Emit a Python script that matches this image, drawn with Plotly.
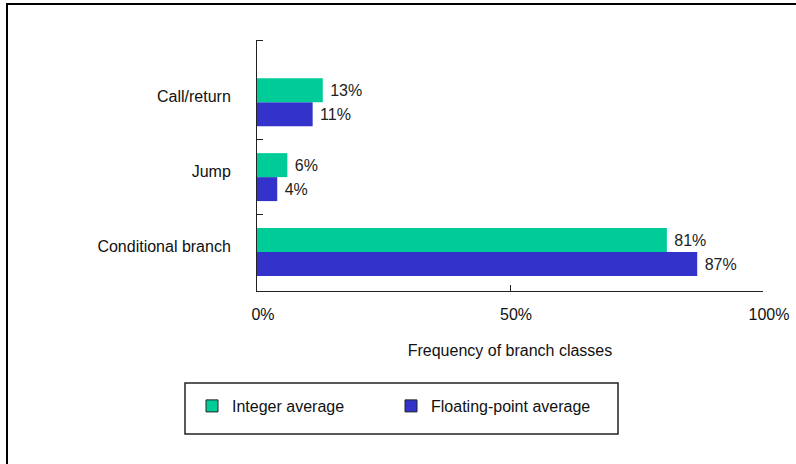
import plotly.graph_objects as go

categories = ["Conditional branch", "Jump", "Call/return"]
integer_avg = [81, 6, 13]
fp_avg = [87, 4, 11]
x_ticks = [0, 50, 100]
x_tick_labels = ["0%", "50%", "100%"]
series_names = ["Integer average", "Floating-point average"]
colors = ["#00CC99", "#3333CC"]

ypos = list(range(len(categories)))
FONT = "Arial, Liberation Sans, sans-serif"
FS = 16

fig = go.Figure()
# data bars (first trace drawn lowest in each group)
fig.add_trace(go.Bar(y=ypos, x=fp_avg, orientation="h", marker=dict(color=colors[1], line=dict(width=0)),
                     text=[f" {v}%" for v in fp_avg], textposition="outside", cliponaxis=False,
                     constraintext="none",
                     textfont=dict(size=FS, color="#222"), showlegend=False, name=series_names[1]))
fig.add_trace(go.Bar(y=ypos, x=integer_avg, orientation="h", marker=dict(color=colors[0], line=dict(width=0)),
                     text=[f" {v}%" for v in integer_avg], textposition="outside", cliponaxis=False,
                     constraintext="none",
                     textfont=dict(size=FS, color="#222"), showlegend=False, name=series_names[0]))
# legend entries (on hidden overlay axes so they do not take space in the bar groups)
for nm, c in zip(series_names, colors):
    fig.add_trace(go.Bar(y=[None], x=[None], orientation="h", name=nm, xaxis="x2", yaxis="y2",
                         marker=dict(color=c, line=dict(color="#222", width=1))))

W, H = 796, 464
L, R, T, B = 257, 33, 40, 464 - 291
pw, ph = W - L - R, H - T - B

def px(x):
    return (x - L) / pw

def py(y):
    return (H - B - y) / ph

shapes = [
    dict(type="line", xref="paper", yref="paper", x0=px(6), x1=px(800), y0=py(4), y1=py(4),
         line=dict(color="black", width=2)),
    dict(type="line", xref="paper", yref="paper", x0=px(7), x1=px(7), y0=py(3), y1=py(470),
         line=dict(color="black", width=2)),
    dict(type="rect", xref="paper", yref="paper", x0=px(185), x1=px(618), y0=py(383), y1=py(434),
         line=dict(color="#222", width=1.5)),
]

fig.update_layout(
    width=W, height=H,
    margin=dict(l=L, r=R, t=T, b=B, autoexpand=False),
    paper_bgcolor="white", plot_bgcolor="white",
    barmode="group", bargap=0.36, bargroupgap=0,
    font=dict(family=FONT, size=FS, color="#111"),
    shapes=shapes,
    legend=dict(orientation="h", x=px(192), y=py(389), xanchor="left", yanchor="top",
                font=dict(size=FS, color="#111"), bgcolor="rgba(0,0,0,0)",
                entrywidth=154, traceorder="normal"),
    xaxis=dict(range=[0, 100], tickvals=x_ticks, ticktext=x_tick_labels, showline=True, linecolor="#222",
               linewidth=1, ticks="inside", ticklen=6, tickcolor="#222", showgrid=False, zeroline=False,
               ticklabelstandoff=9, ticklabelshift=6, automargin=False,
               title=dict(text="Frequency of branch classes", standoff=22, font=dict(size=FS))),
    yaxis=dict(range=[-0.52, 2.83], tickmode="array", tickvals=ypos, ticktext=categories, ticks="",
               showline=True, linecolor="#222", linewidth=1, showgrid=False, zeroline=False,
               ticklabelstandoff=22, ticklabelshift=-6, automargin=False,
               minor=dict(tickmode="array", tickvals=[0.5, 1.5, 2.829], ticks="inside", ticklen=6,
                          tickcolor="#222", showgrid=False)),
    xaxis2=dict(overlaying="x", visible=False, range=[0, 1]),
    yaxis2=dict(overlaying="y", visible=False, range=[0, 1]),
)

fig.write_html("out.html", config={"displayModeBar": False},
               post_script="document.body.style.margin='0';document.body.style.overflow='hidden';")
